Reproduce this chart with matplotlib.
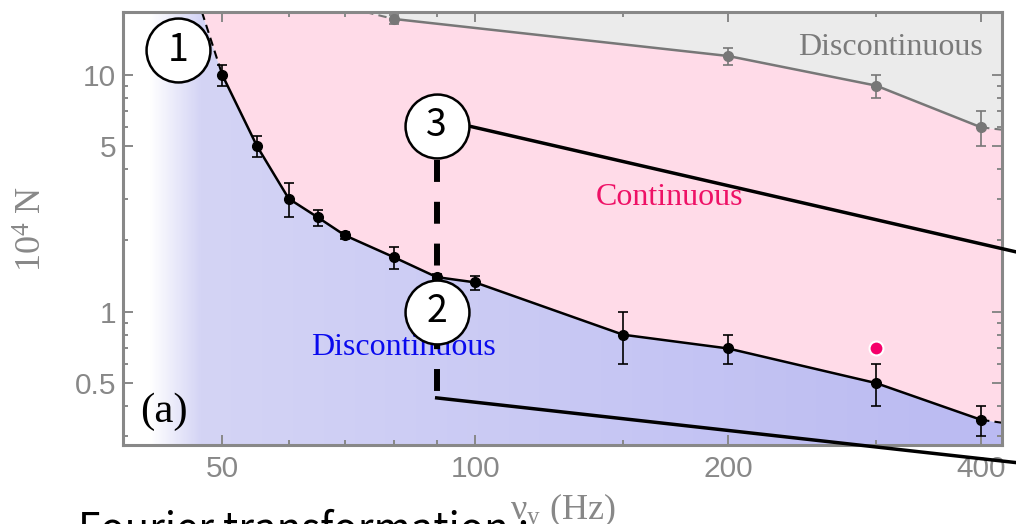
import numpy as np
import matplotlib.pyplot as plt
from matplotlib.ticker import FixedLocator, FixedFormatter, NullFormatter

# lower boundary (continuous -> discontinuous), nu_y in Hz, N in units of 1e4
freqLow = [50, 55, 60, 65, 70, 80, 90, 100, 150, 200, 300, 400]
nLow    = [10, 5.0, 3.0, 2.5, 2.1, 1.7, 1.4, 1.33, 0.80, 0.70, 0.50, 0.35]
errLow  = [1.0, 0.5, 0.5, 0.2, 0.08, 0.18, 0.04, 0.09, 0.2, 0.1, 0.1, 0.05]
# upper boundary
freqUp = [80, 200, 300, 400]
nUp    = [17.2, 12.0, 9.0, 6.0]
errUp  = [0.75, 1.0, 1.0, 1.0]
# extrapolated ends of both boundaries (dashed)
tailLow = {'top': (47.3, 18.4), 'right': (424, 0.34)}
tailUp  = {'top': (74.0, 18.4), 'right': (424, 5.86)}
# single measured point
extraPt = (300, 0.70)

xTicks, xLabels = [50, 100, 200, 400], ['50', '100', '200', '400']
xMinor = [60, 70, 80, 90, 150, 300]
yTicks, yLabels = [0.5, 1, 5, 10], ['0.5', '1', '5', '10']
yMinor = [0.3, 0.4, 0.6, 0.7, 0.8, 0.9, 2, 3, 4, 6, 7, 8, 9]
xlim, ylim = (38.1, 423.6), (0.274, 18.4)

# markers of the annotation overlay: (nu, N)
marks = {'1': (44.3, 12.7), '2': (90, 1.0), '3': (90, 6.09)}
dashTop, dashBottom = (90, 4.38), (90, 0.433)
arrow3 = [(99.0, 6.04), (440, 1.79)]
arrow2 = [(90, 0.433), (440, 0.231)]

gray = '#888888'
fig = plt.figure(figsize=(10.16, 5.24), dpi=100)
ax = fig.add_axes([123/1016, 79/524, 879/1016, 433/524])
ax.set_xscale('log'); ax.set_yscale('log')
ax.set_xlim(xlim); ax.set_ylim(ylim)
ax.set_autoscale_on(False)

# region polygons
lowX = [tailLow['top'][0]] + freqLow + [tailLow['right'][0]]
lowY = [tailLow['top'][1]] + nLow + [tailLow['right'][1]]
upX = [tailUp['top'][0]] + freqUp + [tailUp['right'][0]]
upY = [tailUp['top'][1]] + nUp + [tailUp['right'][1]]

blue = ax.fill([xlim[0]] + lowX + [xlim[1], xlim[0]],
               [ylim[1]] + lowY + [ylim[0], ylim[0]],
               facecolor='none', edgecolor='none')[0]
ax.fill(lowX + upX[::-1], lowY + upY[::-1], facecolor='#ffdbe8', edgecolor='none', zorder=1)
ax.fill(upX + [xlim[1]], upY + [ylim[1]], facecolor='#ebebeb', edgecolor='none', zorder=1)

# white -> blue gradient for the discontinuous region
px = 123 + np.linspace(0, 1, 600)*879
stops = [150, 200, 1002]
cols = [[255, 212, 186], [255, 212, 186], [255, 245, 242]]
img = np.stack([np.interp(px, stops, c) for c in cols], axis=-1)/255.
img = np.repeat(img[None, :, :], 2, axis=0)
im = ax.imshow(img, extent=(0, 1, 0, 1), transform=ax.transAxes, aspect='auto',
               interpolation='bilinear', zorder=0)
im.set_clip_path(blue)

# boundaries
ax.plot(freqLow, nLow, c='k', lw=1.8, zorder=3)
ax.errorbar(freqLow, nLow, yerr=errLow, fmt='o', c='k', ms=7, elinewidth=1.2,
            capsize=3.6, capthick=1.2, zorder=3)
ax.plot([tailLow['top'][0], freqLow[0]], [tailLow['top'][1], nLow[0]], 'k--', lw=1.5,
        dashes=(4, 2.5), zorder=3)
ax.plot([freqLow[-1], tailLow['right'][0]], [nLow[-1], tailLow['right'][1]], 'k--',
        lw=1.5, dashes=(4, 2.5), zorder=3)
ugray = '#777777'
ax.plot(freqUp, nUp, c=ugray, lw=1.8, zorder=3)
ax.errorbar(freqUp, nUp, yerr=errUp, fmt='o', c=ugray, ms=7, elinewidth=1.2,
            capsize=3.6, capthick=1.2, zorder=3)
ax.plot([tailUp['top'][0], freqUp[0]], [tailUp['top'][1], nUp[0]], '--', c=ugray,
        lw=1.5, dashes=(4, 2.5), zorder=3)
ax.plot([freqUp[-1], tailUp['right'][0]], [nUp[-1], tailUp['right'][1]], '--', c=ugray,
        lw=1.5, dashes=(4, 2.5), zorder=3)
ax.plot(*extraPt, 'o', c='#f5006a', ms=10, mec='white', mew=1.5, zorder=4)

# region labels
serif = 'Liberation Serif'
ax.text(0.873, 0.9007, 'Discontinuous', transform=ax.transAxes, ha='center',
        va='baseline', family=serif, size=23, color='#7a7a7a', zorder=4)
ax.text(0.622, 0.554, 'Continuous', transform=ax.transAxes, ha='center',
        va='baseline', family=serif, size=23, color='#ee1166', zorder=4)
ax.text(0.3185, 0.208, 'Discontinuous', transform=ax.transAxes, ha='center',
        va='baseline', family=serif, size=23, color='#0a0aee', zorder=4)
ax.text(0.019, 0.053, '(a)', transform=ax.transAxes, ha='left', va='baseline',
        family=serif, size=31, color='k', zorder=4)

# axes styling
ax.xaxis.set_major_locator(FixedLocator(xTicks))
ax.xaxis.set_major_formatter(FixedFormatter(xLabels))
ax.xaxis.set_minor_locator(FixedLocator(xMinor))
ax.xaxis.set_minor_formatter(NullFormatter())
ax.yaxis.set_major_locator(FixedLocator(yTicks))
ax.yaxis.set_major_formatter(FixedFormatter(yLabels))
ax.yaxis.set_minor_locator(FixedLocator(yMinor))
ax.yaxis.set_minor_formatter(NullFormatter())
ax.tick_params(which='both', direction='in', top=True, right=True, color=gray,
               width=1.4, labelcolor=gray, labelsize=21.5)
ax.tick_params(which='major', length=7.2)
ax.tick_params(which='minor', length=3.6)
ax.tick_params(axis='x', pad=7)
ax.tick_params(axis='y', pad=5)
for lab in ax.get_xticklabels() + ax.get_yticklabels():
  lab.set_family('Liberation Sans')
for sp in ax.spines.values():
  sp.set_color(gray); sp.set_linewidth(2.2); sp.set_zorder(5)
ax.set_xlabel(r'$\mathregular{\nu_y}$ (Hz)', family=serif, size=26, color=gray, labelpad=6)
ax.set_ylabel(r'$\mathregular{10^4}$ N', family=serif, size=26, color=gray, labelpad=18)

# annotation overlay
ax.plot([dashTop[0], dashBottom[0]], [dashTop[1], dashBottom[1]], c='k', lw=4.3,
        dashes=(3.67, 3.33), solid_capstyle='butt', zorder=6, clip_on=False)
ax.plot(*zip(*arrow2), c='k', lw=2.5, zorder=6, clip_on=False)
ax.plot(*zip(*arrow3), c='k', lw=2.5, zorder=6, clip_on=False)
for key, (mx, my) in marks.items():
  ax.plot(mx, my, 'o', ms=46, mfc='white', mec='k', mew=1.8, zorder=7, clip_on=False)
  ax.text(mx, my, key, ha='center', va='center', family='Noto Sans CJK KR', size=27,
          color='k', zorder=8)

fig.text(78/1016, -17/524, 'Fourier transformation :', family='Noto Sans CJK KR',
         size=29, va='baseline', color='k')

fig.savefig('out.png', dpi=100)
